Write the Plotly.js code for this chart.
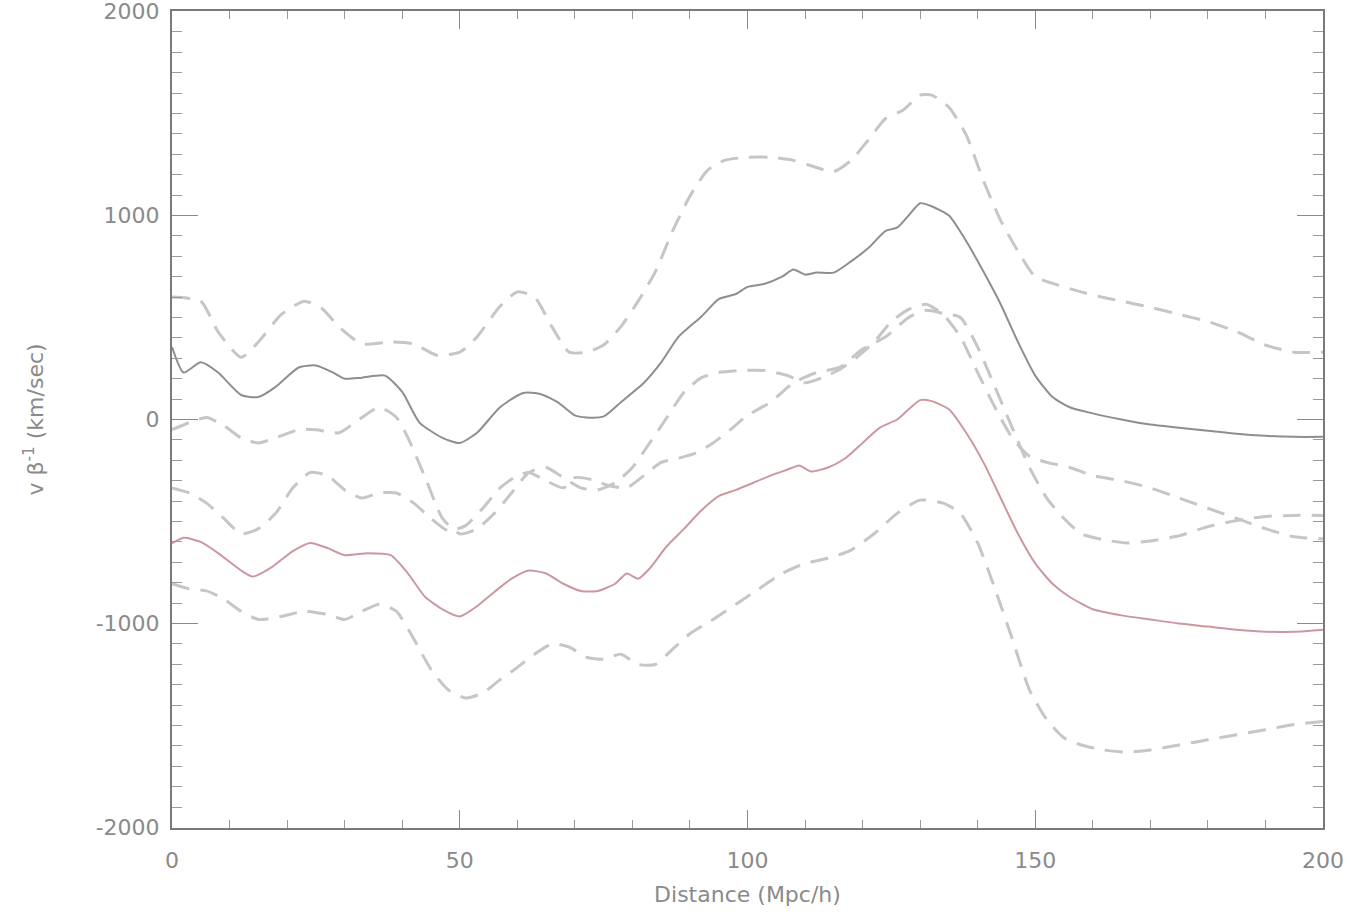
<!DOCTYPE html>
<html>
<head>
<meta charset="utf-8">
<script src="https://cdn.plot.ly/plotly-3.0.1.min.js"></script>
<style>html,body{margin:0;padding:0;background:#fff;}#chart{width:1353px;height:912px;}</style>
</head>
<body>
<div id="chart"></div>
<script>
// Gray solid line
const grayX = [0,2,5,8,12,15,18,22,25,28,30,33,37,40,43,47,50,53,57,61,64,67,70,72,75,78,82,85,88,92,95,98,100,103,106,108,110,112,115,118,121,124,126,128,130,132,135,138,141,144,147,150,153,156,160,165,170,175,180,185,190,195,200];
const grayY = [355,230,280,230,120,110,160,255,265,230,200,205,215,135,-15,-90,-115,-65,60,130,125,85,20,10,15,85,180,280,405,505,590,615,650,665,700,735,710,720,720,775,840,925,940,1000,1060,1045,1000,875,725,565,380,215,110,60,30,0,-25,-40,-55,-70,-80,-85,-85];
// Pink solid line
const pinkX = [0,2,5,8,12,14,17,21,24,27,30,34,38,41,44,47,50,53,56,59,62,65,68,71,74,77,79,81,83,86,89,92,95,98,101,104,107,109,111,114,117,120,123,126,128,130,132,135,138,141,144,147,150,153,156,160,165,170,175,180,185,190,195,200];
const pinkY = [-607,-580,-600,-655,-740,-770,-730,-645,-605,-630,-665,-655,-665,-755,-870,-930,-965,-915,-845,-780,-740,-755,-805,-840,-840,-805,-755,-780,-730,-620,-535,-445,-375,-345,-310,-275,-245,-225,-255,-235,-190,-115,-40,0,50,95,90,50,-65,-210,-385,-560,-705,-805,-870,-930,-960,-980,-1000,-1015,-1030,-1040,-1040,-1030];
// Gray upper dashed bound
const grayUpX = [0,5,8,12,15,19,23,26,29,33,38,42,46,50,53,57,60,63,66,69,72,75,78,81,84,87,90,93,96,100,104,108,112,115,118,121,124,127,130,132,135,138,141,144,147,150,155,160,165,170,175,180,185,190,195,200];
const grayUpY = [600,580,430,305,380,515,580,545,455,370,380,370,315,330,405,555,625,600,455,330,330,365,455,580,725,925,1095,1220,1270,1285,1285,1270,1235,1215,1270,1370,1475,1515,1590,1590,1530,1395,1170,975,825,700,650,610,580,550,515,480,430,365,330,330];
// Gray lower dashed bound
const grayLoX = [0,3,6,9,12,15,18,22,25,29,33,36,39,41,44,47,50,53,56,59,62,65,68,71,74,77,80,83,86,89,92,95,99,103,107,110,113,116,119,122,125,128,131,134,137,140,143,146,149,152,156,160,165,170,175,180,185,190,195,200];
const grayLoY = [-50,-15,10,-30,-90,-115,-90,-50,-50,-65,10,60,10,-90,-285,-485,-560,-535,-460,-360,-260,-235,-285,-335,-345,-310,-235,-115,10,135,205,230,240,240,215,180,205,245,305,380,480,540,565,515,405,230,60,-90,-180,-210,-235,-275,-300,-335,-385,-435,-485,-535,-575,-585];
// Pink upper dashed bound
const pinkUpX = [0,3,6,9,12,15,18,21,24,27,30,33,36,39,42,45,48,51,54,57,60,62,65,68,70,73,76,79,82,85,88,91,94,97,100,104,108,112,116,120,124,128,131,134,137,140,143,146,149,152,155,158,162,166,170,175,180,185,190,195,200];
const pinkUpY = [-335,-360,-410,-485,-560,-535,-460,-335,-260,-275,-345,-385,-360,-360,-410,-485,-545,-520,-435,-335,-275,-260,-300,-335,-285,-295,-325,-335,-275,-210,-190,-165,-115,-50,20,85,180,230,255,345,405,500,535,520,500,355,160,-40,-235,-385,-485,-560,-590,-605,-595,-570,-525,-495,-475,-470,-470];
// Pink lower dashed bound
const pinkLoX = [0,3,6,9,12,15,19,23,27,30,33,36,39,42,45,48,51,54,57,60,63,66,69,72,75,78,81,84,87,90,94,98,102,106,110,114,118,122,126,130,134,137,140,143,146,149,152,155,158,162,166,170,175,180,185,190,195,200];
const pinkLoY = [-805,-830,-840,-880,-940,-980,-965,-940,-955,-980,-940,-905,-940,-1075,-1225,-1325,-1365,-1340,-1275,-1215,-1150,-1100,-1115,-1165,-1175,-1150,-1200,-1200,-1125,-1050,-980,-905,-830,-755,-705,-680,-640,-560,-460,-395,-410,-460,-605,-830,-1075,-1325,-1470,-1560,-1595,-1620,-1630,-1620,-1595,-1570,-1545,-1520,-1495,-1480];

const xTickVals = [0,50,100,150,200];
const xTickText = ['0','50','100','150','200'];
const yTickVals = [-2000,-1000,0,1000,2000];
const yTickText = ['-2000','-1000','0','1000','2000'];

const dashStyle = {color:'#c6c6c6', width:3, dash:'18px,11px'};
const traces = [
  {x:grayUpX, y:grayUpY, mode:'lines', line:dashStyle},
  {x:grayLoX, y:grayLoY, mode:'lines', line:dashStyle},
  {x:pinkUpX, y:pinkUpY, mode:'lines', line:dashStyle},
  {x:pinkLoX, y:pinkLoY, mode:'lines', line:dashStyle},
  {x:grayX, y:grayY, mode:'lines', line:{color:'#8e8e8e', width:2}},
  {x:pinkX, y:pinkY, mode:'lines', line:{color:'#cc98a0', width:2}}
].map(t => { t.line = Object.assign({shape:'spline', smoothing:0.6}, t.line); t.hoverinfo='skip'; return t; });

const axisFont = {family:'DejaVu Sans, sans-serif', size:22, color:'#8a8a8a'};
const layout = {
  width:1353, height:912,
  margin:{l:172, r:30, t:11, b:84},
  paper_bgcolor:'#fff', plot_bgcolor:'#fff',
  showlegend:false,
  xaxis:{
    range:[-0.01,200.01], tickvals:xTickVals, ticktext:xTickText,
    ticks:'inside', ticklen:18, tickcolor:'#8a8a8a', tickwidth:1,
    minor:{ticks:'inside', dtick:10, ticklen:8, tickcolor:'#9a9a9a'},
    showline:true, linecolor:'#7a7a7a', linewidth:2, mirror:'ticks',
    showgrid:false, zeroline:false,
    tickfont:axisFont, ticklabelstandoff:12, ticklabeloverflow:'allow',
    title:{text:'Distance (Mpc/h)', font:axisFont, standoff:14}
  },
  yaxis:{
    range:[-2002,2002], tickvals:yTickVals, ticktext:yTickText,
    ticks:'inside', ticklen:26, tickcolor:'#8a8a8a', tickwidth:1,
    minor:{ticks:'inside', dtick:100, ticklen:10, tickcolor:'#9a9a9a'},
    showline:true, linecolor:'#7a7a7a', linewidth:2, mirror:'ticks',
    showgrid:false, zeroline:false,
    tickfont:axisFont, ticklabelstandoff:6, ticklabeloverflow:'allow',
    title:{text:'v β<sup>-1</sup> (km/sec)', font:axisFont, standoff:46}
  }
};
Plotly.newPlot('chart', traces, layout, {staticPlot:true, displayModeBar:false});
</script>
</body>
</html>
